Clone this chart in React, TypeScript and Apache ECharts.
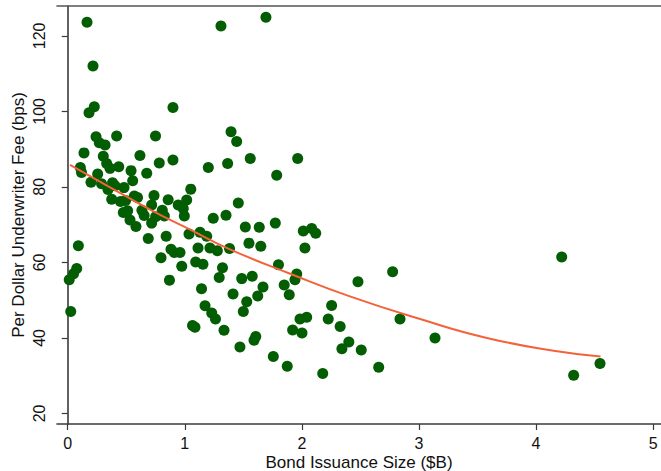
import React, { useEffect, useRef } from "react";
import * as echarts from "echarts";

// Bond issuance size ($B)
const issueSize: number[] = [
  0.165, 0.216, 0.227, 0.182, 0.242, 0.27, 0.319, 0.139, 0.108, 0.118,
  0.256, 0.199, 0.091, 0.077, 0.05, 0.013, 0.026, 0.304, 0.333, 0.361,
  0.418, 0.436, 0.289, 0.383, 0.404, 0.344, 0.481, 0.541, 0.555, 0.376,
  0.451, 0.494, 0.569, 0.596, 0.475, 0.512, 0.532, 0.583, 0.617, 0.75,
  0.675, 0.782, 0.899, 0.737, 0.858, 1.016, 0.944, 0.717, 0.808, 0.634,
  0.653, 0.717, 0.751, 0.825, 0.987, 0.996, 0.688, 0.841, 0.882, 0.91,
  0.959, 0.797, 0.974, 0.869, 1.036, 1.051, 0.899, 1.093, 1.155, 1.13,
  1.187, 1.113, 1.215, 1.278, 1.143, 1.173, 1.066, 1.087, 1.23, 1.262,
  1.201, 1.243, 1.352, 1.395, 1.443, 1.366, 1.457, 1.322, 1.294, 1.335,
  1.382, 1.309, 1.693, 1.559, 1.964, 1.785, 1.517, 1.636, 1.773, 1.548,
  1.649, 1.8, 1.486, 1.576, 1.668, 1.849, 1.956, 1.941, 1.892, 1.623,
  1.412, 1.529, 1.5, 1.471, 1.606, 1.591, 1.756, 1.875, 1.921, 1.984,
  2.041, 2.001, 2.012, 2.084, 2.118, 2.026, 2.254, 2.225, 2.327, 2.401,
  2.342, 2.507, 2.178, 2.479, 2.656, 2.775, 2.838, 3.137, 4.219, 4.321,
  4.546,
];

// Per dollar underwriter fee (bps)
const underwriterFee: number[] = [
  123.6, 112.0, 101.2, 99.6, 93.3, 91.7, 91.1, 89.0, 85.1, 83.8,
  83.4, 81.2, 64.4, 58.4, 57.0, 55.4, 47.0, 88.1, 86.2, 84.9,
  93.5, 85.3, 80.8, 81.1, 80.3, 79.3, 79.8, 84.3, 81.6, 76.7,
  76.1, 76.4, 77.6, 77.2, 73.2, 73.7, 71.2, 69.5, 88.3, 93.5,
  83.6, 86.3, 87.1, 77.7, 76.6, 76.5, 75.2, 75.2, 73.8, 73.8,
  72.4, 70.4, 72.1, 72.3, 74.3, 72.3, 66.3, 66.9, 63.5, 62.6,
  62.6, 61.2, 59.0, 55.3, 67.5, 79.4, 101.0, 60.1, 59.5, 68.0,
  66.9, 63.8, 63.8, 63.1, 53.0, 48.5, 43.3, 42.8, 46.6, 45.0,
  85.1, 71.7, 72.5, 94.6, 92.0, 86.2, 75.7, 58.6, 56.0, 42.0,
  63.7, 122.6, 124.9, 87.5, 87.5, 83.1, 69.4, 69.3, 70.4, 65.1,
  64.3, 59.4, 55.7, 56.3, 53.5, 54.0, 56.9, 55.4, 51.4, 51.1,
  51.6, 49.6, 47.0, 37.6, 40.4, 39.4, 35.1, 32.5, 42.1, 45.0,
  45.5, 41.3, 68.3, 69.0, 67.7, 63.8, 48.6, 45.0, 43.0, 38.9,
  37.1, 36.8, 30.6, 54.9, 32.2, 57.5, 45.0, 40.0, 61.4, 30.1,
  33.2,
];

// Quadratic fit line, sampled along issuance size
const fitX: number[] = [0.02, 0.32, 0.72, 1.05, 1.39, 1.9, 2.41, 3.01, 3.58, 4.15, 4.55];
const fitY: number[] = [85.8, 80.6, 73.7, 68.6, 63.4, 57.0, 51.0, 45.0, 40.0, 36.6, 35.1];

const xTicks: number[] = [0, 1, 2, 3, 4, 5];
const yTicks: number[] = [20, 40, 60, 80, 100, 120];

const FONT = "'Liberation Sans', Arial, Helvetica, sans-serif";
const AXIS_COLOR = "#3a3a3a";

export default function App() {
  const ref = useRef<HTMLDivElement>(null);

  useEffect(() => {
    if (!ref.current) return;
    const chart = echarts.init(ref.current, null, { renderer: "svg" });

    const points = issueSize.map((x, i) => [x, underwriterFee[i]]);
    const fit = fitX.map((x, i) => [x, fitY[i]]);

    chart.setOption({
      animation: false,
      backgroundColor: "#ffffff",
      textStyle: { fontFamily: FONT },
      grid: {
        left: 57,
        top: 6,
        right: 0,
        bottom: 47,
        containLabel: false,
        outerBoundsMode: "none",
      },
      xAxis: [
        {
          type: "value",
          min: -0.0914,
          max: 5.067,
          name: "Bond Issuance Size ($B)",
          nameLocation: "middle",
          nameGap: 30,
          nameMoveOverlap: false,
          nameTextStyle: { fontSize: 17, color: "#111", fontFamily: FONT },
          axisLine: { show: true, lineStyle: { color: AXIS_COLOR, width: 1.6 } },
          axisTick: {
            show: true,
            length: 6,
            customValues: xTicks,
            lineStyle: { color: AXIS_COLOR, width: 1.2 },
          },
          axisLabel: {
            customValues: xTicks,
            fontSize: 16,
            color: "#111",
            margin: 11,
            fontFamily: FONT,
          },
          splitLine: { show: false },
        },
        {
          type: "value",
          position: "top",
          min: -0.0914,
          max: 5.067,
          axisLine: { show: true, lineStyle: { color: "#555", width: 1.6 } },
          axisTick: { show: false },
          axisLabel: { show: false },
          splitLine: { show: false },
        },
      ],
      yAxis: {
        type: "value",
        min: 17.2,
        max: 127.9,
        name: "Per Dollar Underwriter Fee (bps)",
        nameLocation: "middle",
        nameGap: 30,
        nameMoveOverlap: false,
        nameRotate: 90,
        nameTextStyle: { fontSize: 17, color: "#111", fontFamily: FONT },
        axisLine: { show: true, lineStyle: { color: AXIS_COLOR, width: 1.6 } },
        axisTick: {
          show: true,
          length: 6,
          customValues: yTicks,
          lineStyle: { color: AXIS_COLOR, width: 1.2 },
        },
        axisLabel: {
          customValues: yTicks,
          rotate: 90,
          fontSize: 16,
          color: "#111",
          margin: 10,
          fontFamily: FONT,
        },
        splitLine: { show: false },
      },
      series: [
        {
          type: "scatter",
          data: points,
          symbol: "circle",
          symbolSize: 11,
          itemStyle: { color: "#035d03", opacity: 1 },
          z: 2,
        },
        {
          type: "line",
          data: fit,
          smooth: true,
          showSymbol: false,
          lineStyle: { color: "#f4623a", width: 2 },
          z: 3,
        },
      ],
    });

    return () => chart.dispose();
  }, []);

  return (
    <div
      ref={ref}
      style={{ position: "fixed", left: 0, top: 0, width: 661, height: 471, background: "#fff" }}
    />
  );
}
